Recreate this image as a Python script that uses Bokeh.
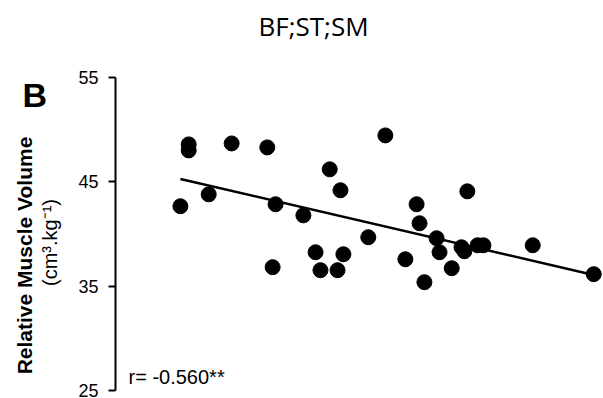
import numpy as np
from bokeh.plotting import figure
from bokeh.models import Label, Range1d, FixedTicker
from bokeh.embed import file_html
from bokeh.resources import INLINE

# data (x in arbitrary units; x axis not shown in reference)
subject_x = [13.3, 15.0, 15.0, 19.1, 23.8, 31.1, 32.2, 32.8, 38.5, 41.0,
             42.0, 43.9, 45.5, 46.1, 46.7, 51.8, 55.3, 59.4, 61.7, 62.3,
             63.3, 65.8, 66.4, 68.9, 70.9, 71.5, 72.1, 74.2, 75.4, 85.5, 98.0]
muscle_volume = [42.66, 48.59, 48.01, 43.80, 48.68, 48.30, 36.82, 42.85, 41.79, 38.25,
                 36.53, 46.20, 36.53, 44.19, 38.06, 39.69, 49.45, 37.58, 42.85, 41.03,
                 35.38, 39.59, 38.25, 36.72, 38.73, 38.35, 44.09, 38.92, 38.92, 38.92, 36.15]
y_ticks = [25, 35, 45, 55]
title_text = "BF;ST;SM"
panel_letter = "B"
y_label_1 = "Relative Muscle Volume"
y_label_2 = "(cm\u00b3.kg\u207b\u00b9)"
r_text = "r= -0.560**"

W, H = 603, 398
p = figure(width=W, height=H, output_backend="svg", toolbar_location=None,
           x_axis_location=None, y_axis_location="left",
           x_range=Range1d(-115 / 4.88, 488 / 4.88),
           y_range=Range1d(25 - 8 / 10.433, 55 + 77 / 10.433),
           min_border=0)
p.grid.visible = False
p.outline_line_color = None
p.background_fill_color = "white"
p.border_fill_color = "white"

ax = p.yaxis[0]
ax.fixed_location = 0
ax.bounds = (25, 55)
ax.ticker = FixedTicker(ticks=y_ticks)
ax.axis_line_width = 2
ax.major_tick_line_width = 2
ax.major_tick_out = 7
ax.major_tick_in = 0
ax.minor_tick_line_color = None
ax.major_label_standoff = 10
ax.major_label_text_font = "Liberation Sans"
ax.major_label_text_font_size = "18px"
ax.major_label_text_color = "black"

p.scatter(subject_x, muscle_volume, size=15, color="black")

xs = np.array(subject_x)
slope, intercept = np.polyfit(xs, np.array(muscle_volume), 1)
lx = np.array([xs.min(), xs.max()])
p.line(lx, slope * lx + intercept, line_color="black", line_width=2.5)

def scr(text, x, y, **kw):
    p.add_layout(Label(x=x, y=H - y, x_units="screen", y_units="screen", text=text,
                       text_color="black", text_baseline="middle", **kw))

scr(title_text, 313, 25.5, text_font="Open Sans", text_font_size="26px", text_align="center")
scr(panel_letter, 22, 94.5, text_font="Liberation Sans", text_font_style="bold",
    text_font_size="34px", text_align="left")
scr(y_label_1, 24, 255, angle=np.pi / 2, text_font="Liberation Sans",
    text_font_style="bold", text_font_size="21px", text_align="center")
scr(y_label_2, 49, 242, angle=np.pi / 2, text_font="Liberation Sans",
    text_font_size="20px", text_align="center")
scr(r_text, 128, 376.5, text_font="Liberation Sans", text_font_size="20px", text_align="left")

open("out.html", "w").write(file_html(p, INLINE))
